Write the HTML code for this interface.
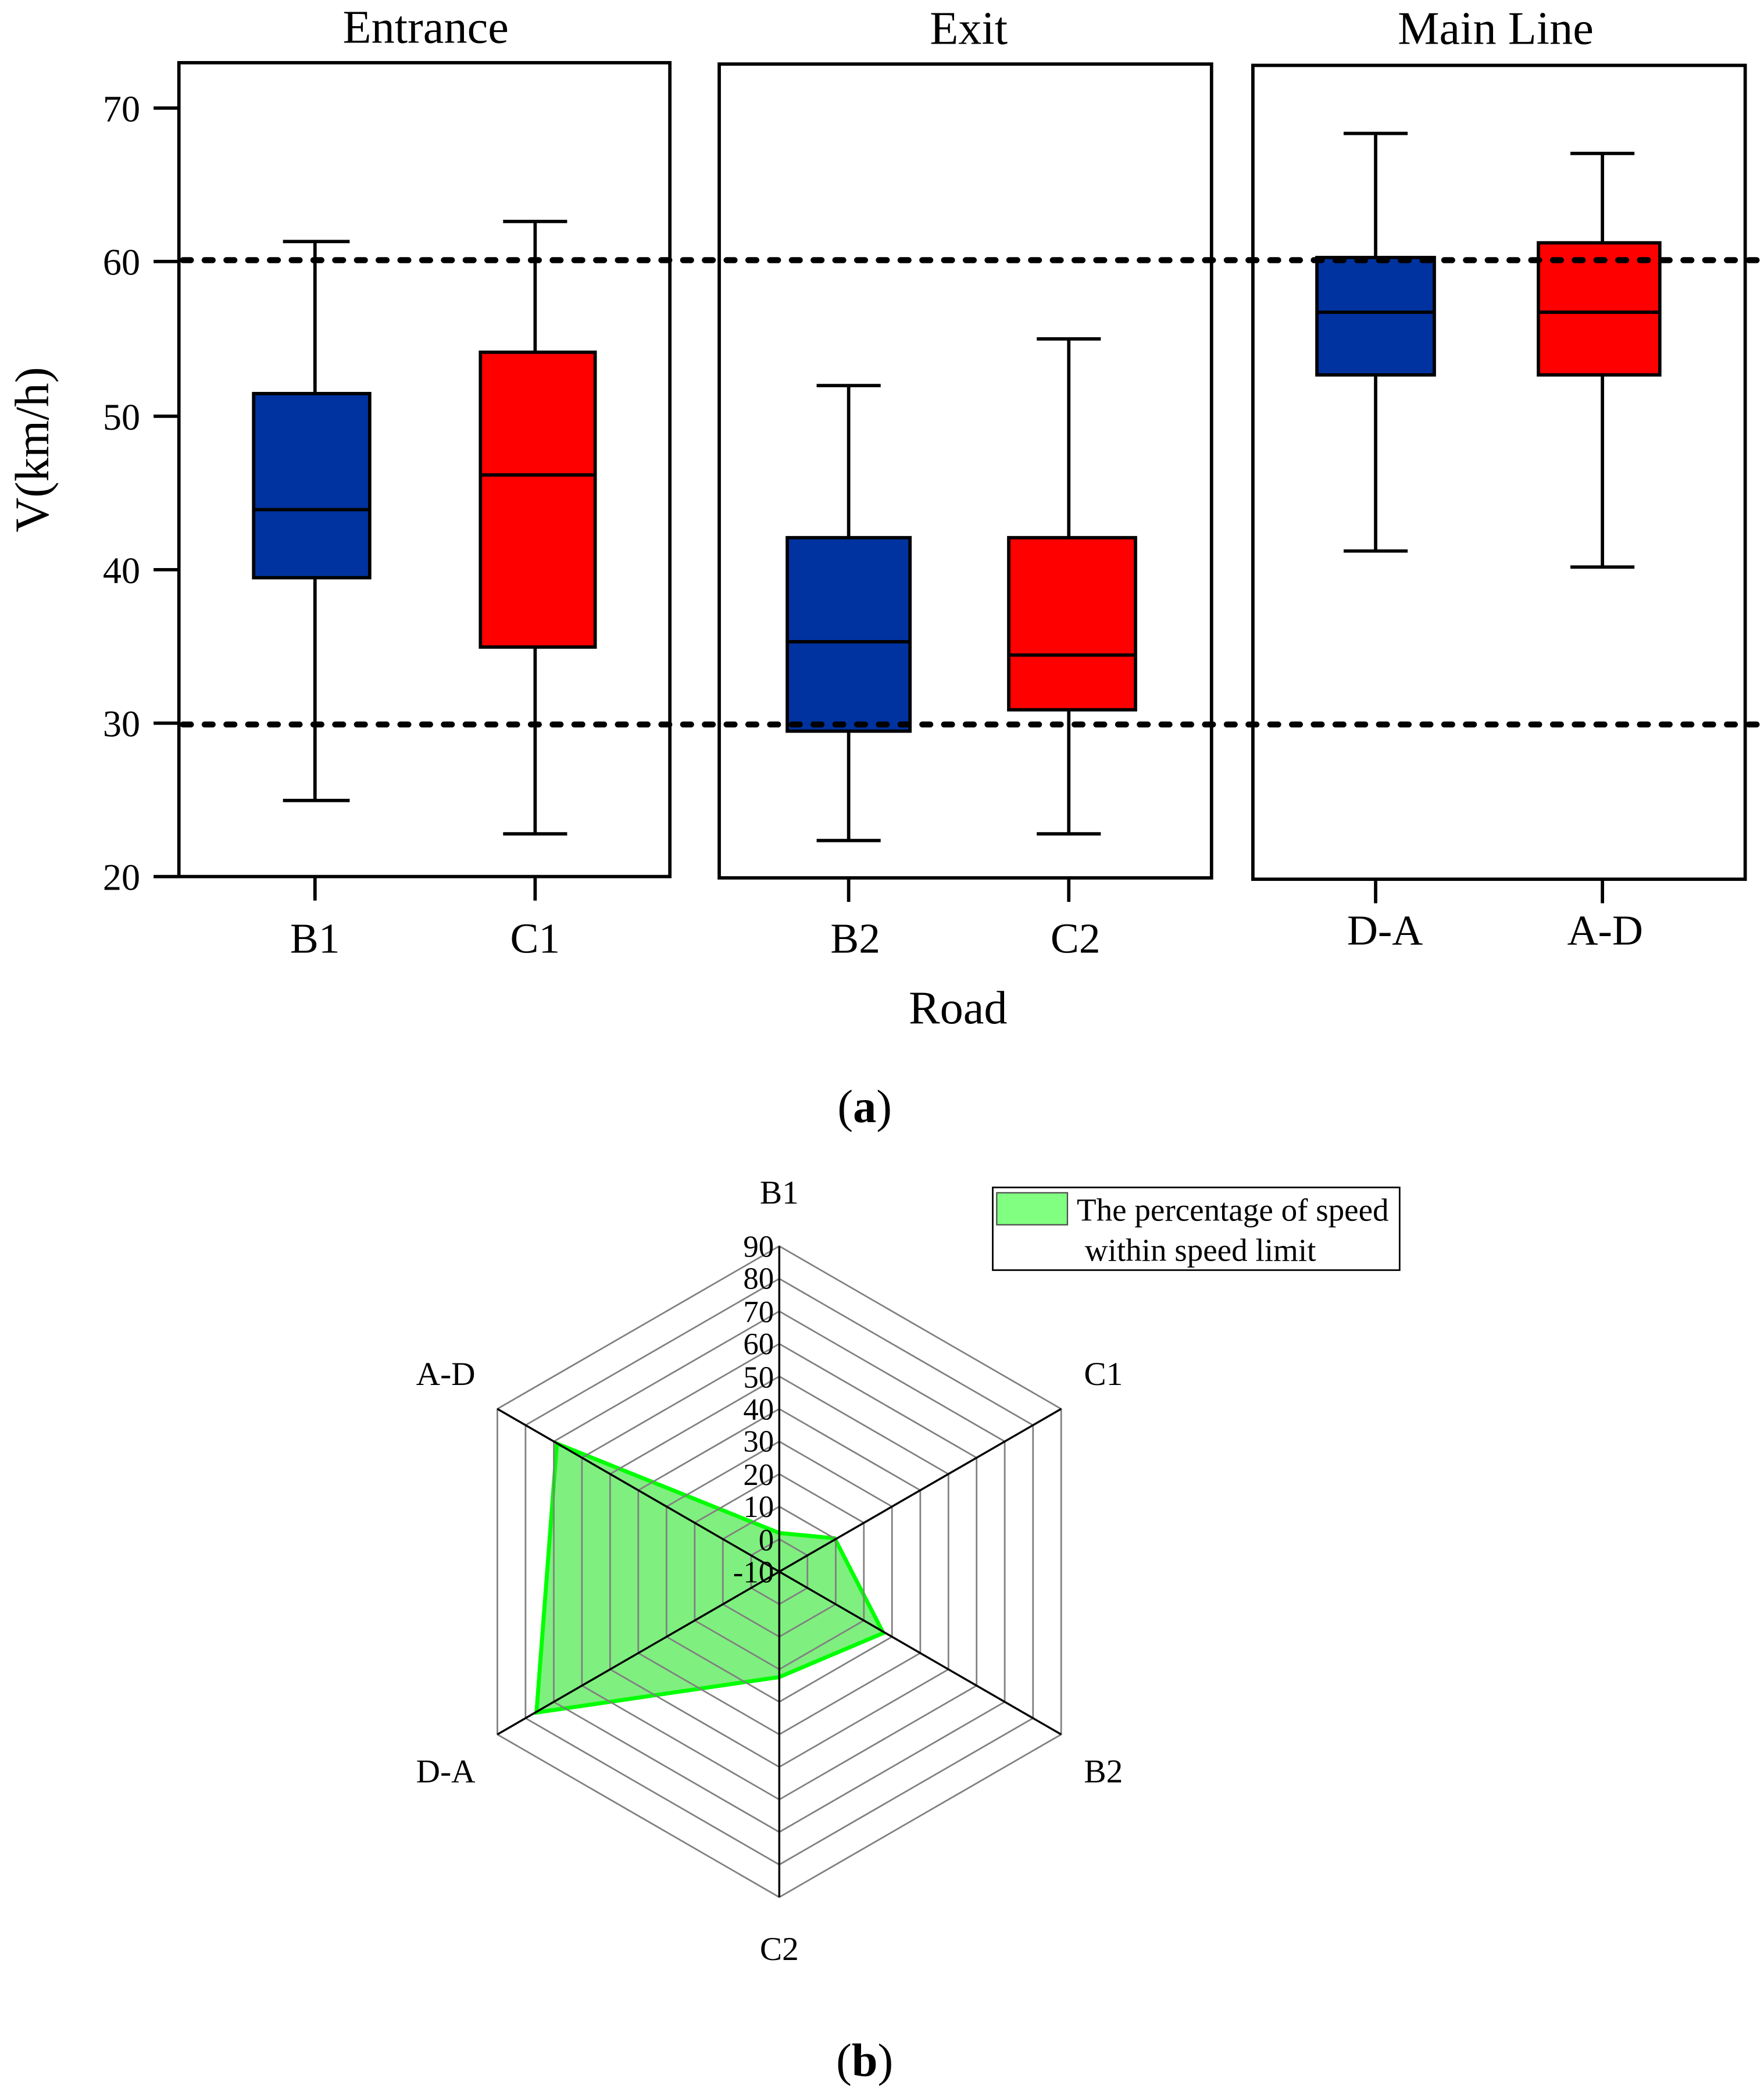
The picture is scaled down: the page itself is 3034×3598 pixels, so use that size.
<!DOCTYPE html>
<html><head><meta charset="utf-8"><style>
html,body{margin:0;padding:0;background:#fff}
svg{display:block}
text{font-family:"Liberation Serif",serif;fill:#000}
</style></head><body>
<svg width="3034" height="3598" viewBox="0 0 1322 1568" xmlns="http://www.w3.org/2000/svg">
<g font-size="35" text-anchor="middle">
<text x="319" y="32">Entrance</text>
<text x="726" y="33">Exit</text>
<text x="1121" y="33">Main Line</text>
</g>
<g stroke="#000" stroke-width="2.5">
<line x1="115" y1="81" x2="134" y2="81"/><line x1="115" y1="196" x2="134" y2="196"/>
<line x1="115" y1="312" x2="134" y2="312"/><line x1="115" y1="427" x2="134" y2="427"/>
<line x1="115" y1="542" x2="134" y2="542"/><line x1="115" y1="657" x2="134" y2="657"/>
</g>
<g font-size="28" text-anchor="end">
<text x="105" y="91">70</text><text x="105" y="206">60</text><text x="105" y="322">50</text>
<text x="105" y="437">40</text><text x="105" y="552">30</text><text x="105" y="667">20</text>
</g>
<text font-size="36" text-anchor="middle" transform="translate(36,337) rotate(-90)">V(km/h)</text>
<g fill="none" stroke="#000" stroke-width="2.5">
<rect x="134" y="47" width="368" height="610"/>
<rect x="539" y="48" width="369" height="610"/>
<rect x="939" y="49" width="369" height="610"/>
</g>
<g stroke="#000" stroke-width="2.5">
<line x1="236" y1="657" x2="236" y2="675"/><line x1="401" y1="657" x2="401" y2="675"/>
<line x1="636" y1="658" x2="636" y2="676"/><line x1="801" y1="658" x2="801" y2="676"/>
<line x1="1031" y1="659" x2="1031" y2="677"/><line x1="1201" y1="659" x2="1201" y2="677"/>
</g>
<g font-size="32" text-anchor="middle">
<text x="236" y="714">B1</text><text x="401" y="714">C1</text>
<text x="641" y="714">B2</text><text x="806" y="714">C2</text>
<text x="1038" y="708">D-A</text><text x="1203" y="708">A-D</text>
</g>
<text x="718" y="767" font-size="35" text-anchor="middle">Road</text>
<text x="648" y="841" font-size="35" text-anchor="middle">(<tspan font-weight="bold">a</tspan>)</text>
<g stroke="#000" stroke-width="2.5">
<line x1="236" y1="181" x2="236" y2="600"/><line x1="212" y1="181" x2="262" y2="181"/><line x1="212" y1="600" x2="262" y2="600"/>
<rect x="190" y="295" width="87" height="138" fill="#0033a0"/><line x1="190" y1="382" x2="277" y2="382"/>
<line x1="401" y1="166" x2="401" y2="625"/><line x1="377" y1="166" x2="425" y2="166"/><line x1="377" y1="625" x2="425" y2="625"/>
<rect x="360" y="264" width="86" height="221" fill="#ff0000"/><line x1="360" y1="356" x2="446" y2="356"/>
<line x1="636" y1="289" x2="636" y2="630"/><line x1="612" y1="289" x2="660" y2="289"/><line x1="612" y1="630" x2="660" y2="630"/>
<rect x="590" y="403" width="92" height="145" fill="#0033a0"/><line x1="590" y1="481" x2="682" y2="481"/>
<line x1="801" y1="254" x2="801" y2="625"/><line x1="777" y1="254" x2="825" y2="254"/><line x1="777" y1="625" x2="825" y2="625"/>
<rect x="756" y="403" width="95" height="129" fill="#ff0000"/><line x1="756" y1="491" x2="851" y2="491"/>
<line x1="1031" y1="100" x2="1031" y2="413"/><line x1="1007" y1="100" x2="1055" y2="100"/><line x1="1007" y1="413" x2="1055" y2="413"/>
<rect x="987" y="193" width="88" height="88" fill="#0033a0"/><line x1="987" y1="234" x2="1075" y2="234"/>
<line x1="1201" y1="115" x2="1201" y2="425"/><line x1="1177" y1="115" x2="1225" y2="115"/><line x1="1177" y1="425" x2="1225" y2="425"/>
<rect x="1153" y="182" width="91" height="99" fill="#ff0000"/><line x1="1153" y1="234" x2="1244" y2="234"/>
</g>
<g stroke="#000" stroke-width="4.5" stroke-linecap="round" stroke-dasharray="6 10.3">
<line x1="137" y1="195" x2="1322" y2="195"/>
<line x1="137" y1="543" x2="1322" y2="543"/>
</g>

<polygon points="584,1149 625.5,1153 662,1224 584,1257 402,1283.6 417.3,1082" fill="#00e000" fill-opacity="0.5" stroke="#00ff00" stroke-width="3"/>
<g id="gridtop" fill="none" stroke="#808080" stroke-width="1.2"></g>
<g stroke="#000" stroke-width="1.5">
<line x1="584" y1="934" x2="584" y2="1422"/>
<line x1="372.7" y1="1056" x2="795.3" y2="1300"/>
<line x1="372.7" y1="1300" x2="795.3" y2="1056"/>
</g>
<g font-size="23" text-anchor="end">
<text x="580" y="942">90</text><text x="580" y="966">80</text><text x="580" y="991">70</text>
<text x="580" y="1015">60</text><text x="580" y="1040">50</text><text x="580" y="1064">40</text>
<text x="580" y="1088">30</text><text x="580" y="1113">20</text><text x="580" y="1137">10</text>
<text x="580" y="1162">0</text><text x="580" y="1186">-10</text>
</g>
<g font-size="25" text-anchor="middle">
<text x="584" y="902">B1</text><text x="827" y="1038">C1</text><text x="827" y="1336">B2</text>
<text x="584" y="1469">C2</text><text x="334" y="1336">D-A</text><text x="334" y="1038">A-D</text>
</g>
<rect x="744" y="890" width="305" height="62" fill="#fff" stroke="#000" stroke-width="1.2"/>
<rect x="747" y="894" width="53" height="24" fill="#80ff80" stroke="#505050" stroke-width="1"/>
<text x="807" y="915" font-size="24">The percentage of speed</text>
<text x="813" y="945" font-size="24">within speed limit</text>
<text x="648" y="1556" font-size="35" text-anchor="middle">(<tspan font-weight="bold">b</tspan>)</text>
<script>
(function(){
var ns="http://www.w3.org/2000/svg",cx=584,cy=1178,g=document.getElementById('gridtop');
for(var k=1;k<=10;k++){var r=24.4*k,pts=[];
for(var i=0;i<6;i++){var a=(-90+60*i)*Math.PI/180;pts.push((cx+r*Math.cos(a)).toFixed(1)+','+(cy+r*Math.sin(a)).toFixed(1));}
var p=document.createElementNS(ns,'polygon');p.setAttribute('points',pts.join(' '));g.appendChild(p);}
})();
</script>
</svg>
</body></html>
